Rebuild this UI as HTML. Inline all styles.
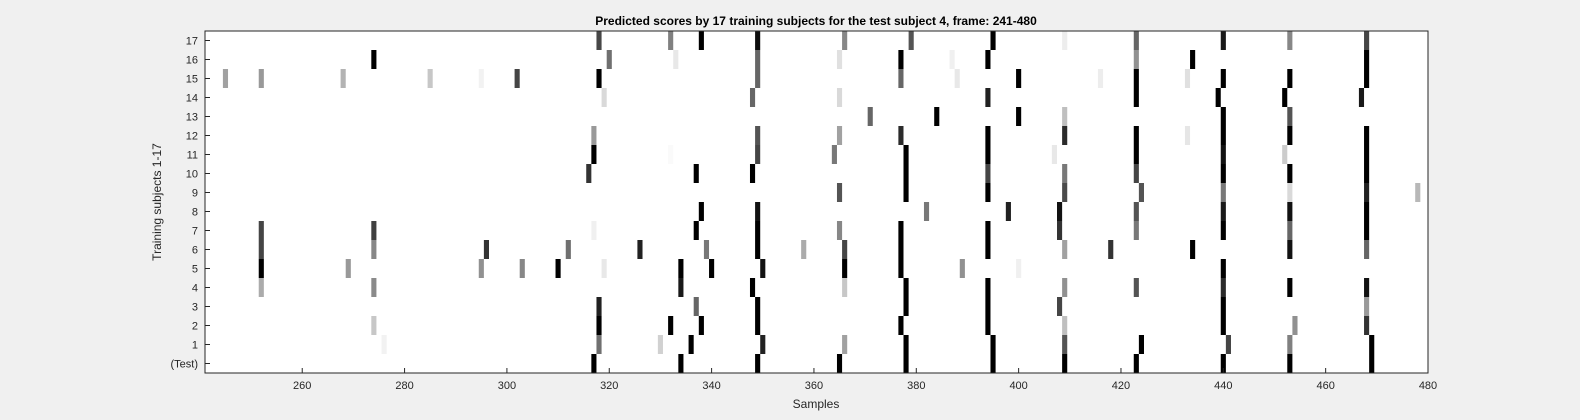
<!DOCTYPE html>
<html><head><meta charset="utf-8"><style>
html,body{margin:0;padding:0;background:#f0f0f0;}
svg{display:block;font-family:"Liberation Sans",Arial,sans-serif;}
</style></head><body>
<svg id="chart" width="1580" height="420" xmlns="http://www.w3.org/2000/svg">
<rect x="0" y="0" width="1580" height="420" fill="#f0f0f0"/>
<text x="816" y="25" text-anchor="middle" font-size="12" font-weight="bold" fill="#000">Predicted scores by 17 training subjects for the test subject 4, frame: 241-480</text>
<text x="816" y="408" text-anchor="middle" font-size="12" fill="#262626">Samples</text>
<text transform="translate(161,202) rotate(-90)" text-anchor="middle" font-size="12" fill="#262626">Training subjects 1-17</text>
<rect x="205" y="31" width="1223" height="342" fill="#fff"/>
<g id="cells"></g>
<g id="axes"></g>
<rect x="205" y="31" width="1223" height="342" fill="none" stroke="#262626" stroke-width="1"/>
</svg>
<script>
const rowLabels = ["(Test)","1","2","3","4","5","6","7","8","9","10","11","12","13","14","15","16","17"];
const xTicks = [260,280,300,320,340,360,380,400,420,440,460,480];
const cellRow = [];
const cellSample = [];
const cellValue = [];
const rowData = {
"17":[[318,.72],[332,.5],[338,1],[349,.95],[366,.47],[379,.67],[395,1],[409,.07],[423,.6],[440,.9],[453,.47],[468,.73]],
"16":[[274,1],[320,.56],[333,.09],[349,.6],[365,.12],[377,1],[387,.06],[394,1],[423,.43],[434,1],[468,1]],
"15":[[245,.37],[252,.4],[268,.3],[285,.22],[295,.05],[302,.73],[318,1],[349,.6],[377,.6],[388,.09],[400,1],[416,.07],[423,1],[433,.12],[440,1],[453,1],[468,1]],
"14":[[319,.15],[348,.6],[365,.15],[394,.87],[423,1],[439,1],[452,1],[467,.9]],
"13":[[371,.6],[384,1],[400,1],[409,.25],[440,1],[453,.67]],
"12":[[317,.4],[349,.67],[365,.37],[377,.83],[394,1],[409,.83],[423,1],[433,.1],[440,1],[453,1],[468,1]],
"11":[[317,1],[332,.02],[349,.73],[364,.53],[378,1],[394,1],[407,.09],[423,1],[440,.93],[452,.2],[468,1]],
"10":[[316,.8],[337,1],[348,1],[378,1],[394,.73],[409,.53],[423,.73],[440,1],[453,1],[468,1]],
"9":[[365,.67],[378,1],[394,1],[409,.71],[424,.67],[440,.53],[453,.15],[468,.87],[478,.28]],
"8":[[338,1],[349,.93],[382,.53],[398,.87],[408,.93],[423,.67],[440,.9],[453,.93],[468,1]],
"7":[[252,.73],[274,.75],[317,.06],[337,1],[349,1],[365,.47],[377,1],[394,1],[408,.8],[423,.53],[440,1],[453,.6],[468,1]],
"6":[[252,.73],[274,.47],[296,.8],[312,.56],[326,.87],[339,.53],[349,1],[358,.33],[366,.73],[377,1],[394,1],[409,.37],[418,.8],[434,1],[453,.93],[468,.6]],
"5":[[252,1],[269,.4],[295,.43],[303,.47],[310,1],[319,.09],[334,1],[340,1],[350,.93],[366,1],[377,1],[389,.43],[400,.06],[440,1]],
"4":[[252,.33],[274,.46],[334,.9],[348,1],[366,.22],[378,1],[394,1],[409,.43],[423,.67],[440,.83],[453,1],[468,.93]],
"3":[[318,.87],[337,.6],[349,1],[378,1],[394,1],[408,.73],[440,1],[468,.4]],
"2":[[274,.22],[318,1],[332,1],[338,1],[349,1],[377,1],[394,1],[409,.25],[440,1],[454,.43],[468,.8]],
"1":[[276,.05],[318,.56],[330,.18],[336,1],[350,.87],[366,.37],[378,1],[395,1],[409,.67],[424,1],[441,.73],[453,.5],[469,1]],
"(Test)":[[317,1],[334,1],[349,1],[365,1],[378,1],[395,1],[409,1],[423,1],[440,1],[453,1],[469,1]]
};
for (const lab of rowLabels) for (const [s,v] of rowData[lab]) { cellRow.push(lab); cellSample.push(s); cellValue.push(v); }

const NS = "http://www.w3.org/2000/svg";
const L = 205, R = 1428, T = 31, B = 373;
const xMin = 241, xMax = 480;
const xs = v => L + (v - xMin) * (R - L) / (xMax - xMin);
const rowH = (B - T) / rowLabels.length;
const ys = lab => B - (rowLabels.indexOf(lab) + 1) * rowH;

const cells = document.getElementById('cells');
for (let i = 0; i < cellSample.length; i++) {
  const x0 = Math.max(L, xs(cellSample[i] - 0.5)), x1 = Math.min(R, xs(cellSample[i] + 0.5));
  const g = Math.round(255 * (1 - cellValue[i]));
  const r = document.createElementNS(NS, 'rect');
  r.setAttribute('x', x0); r.setAttribute('y', ys(cellRow[i]));
  r.setAttribute('width', x1 - x0); r.setAttribute('height', rowH);
  r.setAttribute('fill', `rgb(${g},${g},${g})`);
  
  
  cells.appendChild(r);
}
const axes = document.getElementById('axes');
for (const t of xTicks) {
  const x = xs(t);
  const ln = document.createElementNS(NS, 'line');
  ln.setAttribute('x1', x); ln.setAttribute('x2', x); ln.setAttribute('y1', B); ln.setAttribute('y2', B - 5);
  ln.setAttribute('stroke', '#262626');
  
  
  axes.appendChild(ln);
  const tx = document.createElementNS(NS, 'text');
  tx.setAttribute('x', x); tx.setAttribute('y', B + 16);
  tx.setAttribute('text-anchor', 'middle'); tx.setAttribute('font-size', '11'); tx.setAttribute('fill', '#262626');
  tx.textContent = t;
  
  
  axes.appendChild(tx);
}
rowLabels.forEach((lab) => {
  const y = ys(lab) + rowH / 2;
  const ln = document.createElementNS(NS, 'line');
  ln.setAttribute('x1', L); ln.setAttribute('x2', L + 5); ln.setAttribute('y1', y); ln.setAttribute('y2', y);
  ln.setAttribute('stroke', '#262626');
  
  
  axes.appendChild(ln);
  const tx = document.createElementNS(NS, 'text');
  tx.setAttribute('x', L - 7); tx.setAttribute('y', y + 4);
  tx.setAttribute('text-anchor', 'end'); tx.setAttribute('font-size', '11'); tx.setAttribute('fill', '#262626');
  tx.textContent = lab;
  
  
  axes.appendChild(tx);
});
</script>
</body></html>
